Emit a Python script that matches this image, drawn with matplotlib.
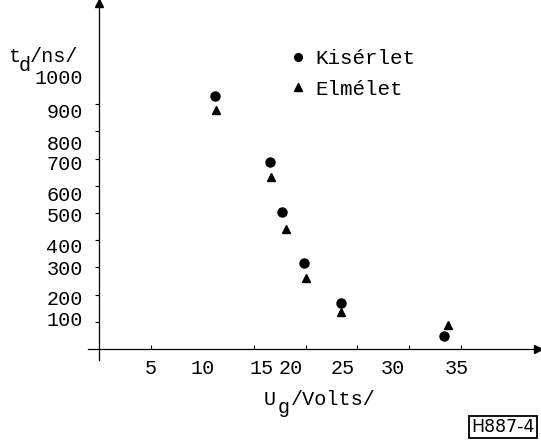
import matplotlib
matplotlib.use("Agg")
import matplotlib.pyplot as plt

ug_kiserlet = [11.2, 16.5, 17.7, 19.8, 23.4, 33.4]
td_kiserlet = [930, 687, 504, 316, 169, 48]
ug_elmelet = [11.3, 16.6, 18.1, 20.0, 23.4, 33.8]
td_elmelet = [879, 632, 441, 261, 136, 88]

# tick labels, and where they sit on the (hand-lettered) axes
x_labels = ["5", "10", "15", "20", "25", "30", "35"]
x_label_pos = [4.97, 10.0, 15.7, 18.5, 23.6, 28.4, 34.6]
y_labels = ["1000", "900", "800", "700", "600", "500", "400", "300", "200", "100"]
y_label_pos = [1000, 875, 761, 684, 570, 493, 382, 298, 188, 114]

mono = "Liberation Mono"
fs = 14.5

fig = plt.figure(figsize=(5.41, 4.40), dpi=100)
ax = fig.add_axes([88 / 541, 1 - 360 / 440, 450 / 541, 357 / 440])
ax.set_xlim(-1.11, 42.5)
ax.set_ylim(-40.4, 1272)

# axes crossing at the origin
for s in ["top", "right"]:
    ax.spines[s].set_visible(False)
ax.spines["left"].set_position(("data", 0))
ax.spines["bottom"].set_position(("data", 0))
ax.spines["left"].set_linewidth(0.9)
ax.spines["bottom"].set_linewidth(0.9)
ax.plot(1, 0, ">k", ms=6, transform=ax.get_yaxis_transform(), clip_on=False)
ax.plot(0, 1, "^k", ms=6, transform=ax.get_xaxis_transform(), clip_on=False)

ax.set_xticks(x_label_pos, x_labels, fontfamily=mono, fontsize=fs)
ax.set_yticks(y_label_pos, y_labels, fontfamily=mono, fontsize=fs)
ax.tick_params(axis="x", length=0, pad=7)
ax.tick_params(axis="y", length=0, pad=12)
ax.set_xticks(range(5, 40, 5), minor=True)
ax.set_yticks(range(100, 1100, 100), minor=True)
ax.tick_params(axis="x", which="minor", direction="in", length=3, width=0.8)
ax.tick_params(axis="y", which="minor", direction="out", length=3, width=0.8)

ax.plot(ug_kiserlet, td_kiserlet, "o", color="black", ms=6.5, label="Kisérlet")
ax.plot(ug_elmelet, td_elmelet, "^", color="black", ms=6, label="Elmélet")

ax.legend(loc="upper left", bbox_to_anchor=(0.444, 0.871), frameon=False,
          prop={"family": mono, "size": 15}, handletextpad=0.3, borderpad=0,
          labelspacing=0.55, handlelength=1.0, borderaxespad=0, markerscale=0.85)

# axis titles with subscripts
fig.text(8 / 541, 1 - 62 / 440, "t", fontfamily=mono, fontsize=fs, va="baseline")
fig.text(19 / 541, 1 - 71 / 440, "d", fontfamily=mono, fontsize=fs, va="baseline")
fig.text(30 / 541, 1 - 62 / 440, "/ns/", fontfamily=mono, fontsize=fs, va="baseline")

fig.text(264 / 541, 1 - 405 / 440, "U", fontfamily=mono, fontsize=fs, va="baseline")
fig.text(278 / 541, 1 - 413 / 440, "g", fontfamily=mono, fontsize=fs, va="baseline")
fig.text(291 / 541, 1 - 405 / 440, "/Volts/", fontfamily=mono, fontsize=fs, va="baseline")

fig.text(503 / 541, 1 - 427 / 440, "H887-4", fontfamily="DejaVu Sans", fontsize=12.5,
         ha="center", va="center",
         bbox=dict(boxstyle="square,pad=0.12", fc="white", ec="black", lw=1.3))

fig.savefig("out.png", dpi=100)
